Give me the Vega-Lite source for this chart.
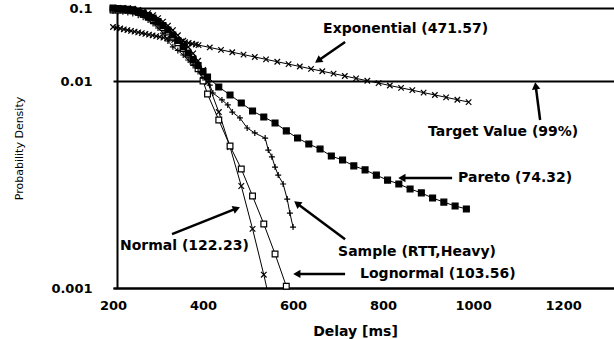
{
  "$schema": "https://vega.github.io/schema/vega-lite/v6.json",
  "width": 501,
  "height": 280,
  "autosize": {"type": "none"},
  "padding": {"left": 113, "top": 8, "right": 0, "bottom": 51},
  "background": "white",
  "config": {"view": {"stroke": null}, "font": "DejaVu Sans"},
  "datasets": {
    "curves": [
      {"s":"Exponential","x":200,"p":0.0549},{"s":"Exponential","x":208,"p":0.0536},{"s":"Exponential","x":216,"p":0.05233},{"s":"Exponential","x":224,"p":0.05109},{"s":"Exponential","x":232,"p":0.04988},{"s":"Exponential","x":240,"p":0.04869},{"s":"Exponential","x":248,"p":0.04754},{"s":"Exponential","x":256,"p":0.04641},{"s":"Exponential","x":264,"p":0.04531},{"s":"Exponential","x":272,"p":0.04424},{"s":"Exponential","x":280,"p":0.04319},{"s":"Exponential","x":288,"p":0.04216},{"s":"Exponential","x":296,"p":0.04116},{"s":"Exponential","x":304,"p":0.04019},{"s":"Exponential","x":312,"p":0.03923},{"s":"Exponential","x":320,"p":0.0383},{"s":"Exponential","x":328,"p":0.03739},{"s":"Exponential","x":336,"p":0.03651},{"s":"Exponential","x":344,"p":0.03564},{"s":"Exponential","x":352,"p":0.0348},{"s":"Exponential","x":360,"p":0.03397},{"s":"Exponential","x":368,"p":0.03317},{"s":"Exponential","x":376,"p":0.03238},{"s":"Exponential","x":384,"p":0.03161},{"s":"Exponential","x":390,"p":0.03105},{"s":"Exponential","x":415,"p":0.02881},{"s":"Exponential","x":440,"p":0.02672},{"s":"Exponential","x":465,"p":0.02479},{"s":"Exponential","x":490,"p":0.023},{"s":"Exponential","x":515,"p":0.02134},{"s":"Exponential","x":540,"p":0.01979},{"s":"Exponential","x":565,"p":0.01836},{"s":"Exponential","x":590,"p":0.01704},{"s":"Exponential","x":615,"p":0.0158},{"s":"Exponential","x":640,"p":0.01466},{"s":"Exponential","x":665,"p":0.0136},{"s":"Exponential","x":690,"p":0.01262},{"s":"Exponential","x":715,"p":0.01171},{"s":"Exponential","x":740,"p":0.01086},{"s":"Exponential","x":765,"p":0.01007},{"s":"Exponential","x":790,"p":0.00977},{"s":"Exponential","x":815,"p":0.00951},{"s":"Exponential","x":840,"p":0.00927},{"s":"Exponential","x":865,"p":0.00903},{"s":"Exponential","x":890,"p":0.00879},{"s":"Exponential","x":915,"p":0.00856},{"s":"Exponential","x":940,"p":0.00834},{"s":"Exponential","x":965,"p":0.00812},{"s":"Exponential","x":990,"p":0.00791},
      {"s":"Normal","x":200,"p":0.1},{"s":"Normal","x":211,"p":0.1},{"s":"Normal","x":222,"p":0.1},{"s":"Normal","x":233,"p":0.0991},{"s":"Normal","x":244,"p":0.0975},{"s":"Normal","x":256,"p":0.0942},{"s":"Normal","x":267,"p":0.0898},{"s":"Normal","x":278,"p":0.0849},{"s":"Normal","x":289,"p":0.0797},{"s":"Normal","x":300,"p":0.0727},{"s":"Normal","x":311,"p":0.0651},{"s":"Normal","x":322,"p":0.0572},{"s":"Normal","x":333,"p":0.0497},{"s":"Normal","x":344,"p":0.0423},{"s":"Normal","x":356,"p":0.0355},{"s":"Normal","x":367,"p":0.0293},{"s":"Normal","x":378,"p":0.0239},{"s":"Normal","x":389,"p":0.0189},{"s":"Normal","x":400,"p":0.0142},{"s":"Normal","x":410,"p":0.00989},{"s":"Normal","x":435,"p":0.00708},{"s":"Normal","x":460,"p":0.0048},{"s":"Normal","x":485,"p":0.00311},{"s":"Normal","x":510,"p":0.00193},{"s":"Normal","x":535,"p":0.00116},{"s":"Normal","x":560,"p":0.000663},
      {"s":"Lognormal","x":200,"p":0.0939},{"s":"Lognormal","x":211,"p":0.0939},{"s":"Lognormal","x":222,"p":0.0939},{"s":"Lognormal","x":233,"p":0.093},{"s":"Lognormal","x":244,"p":0.0915},{"s":"Lognormal","x":256,"p":0.0876},{"s":"Lognormal","x":267,"p":0.0823},{"s":"Lognormal","x":278,"p":0.0758},{"s":"Lognormal","x":289,"p":0.0689},{"s":"Lognormal","x":300,"p":0.0623},{"s":"Lognormal","x":311,"p":0.0542},{"s":"Lognormal","x":322,"p":0.0469},{"s":"Lognormal","x":333,"p":0.0401},{"s":"Lognormal","x":344,"p":0.0334},{"s":"Lognormal","x":356,"p":0.0278},{"s":"Lognormal","x":367,"p":0.0228},{"s":"Lognormal","x":378,"p":0.0186},{"s":"Lognormal","x":389,"p":0.0147},{"s":"Lognormal","x":400,"p":0.01},{"s":"Lognormal","x":410,"p":0.00865},{"s":"Lognormal","x":435,"p":0.00648},{"s":"Lognormal","x":460,"p":0.00485},{"s":"Lognormal","x":485,"p":0.00376},{"s":"Lognormal","x":510,"p":0.00278},{"s":"Lognormal","x":535,"p":0.00204},{"s":"Lognormal","x":560,"p":0.00146},{"s":"Lognormal","x":585,"p":0.00102},
      {"s":"Pareto","x":200,"p":0.1},{"s":"Pareto","x":211,"p":0.0987},{"s":"Pareto","x":222,"p":0.0975},{"s":"Pareto","x":233,"p":0.096},{"s":"Pareto","x":244,"p":0.0945},{"s":"Pareto","x":256,"p":0.0904},{"s":"Pareto","x":267,"p":0.0849},{"s":"Pareto","x":278,"p":0.0789},{"s":"Pareto","x":289,"p":0.073},{"s":"Pareto","x":300,"p":0.0655},{"s":"Pareto","x":311,"p":0.0577},{"s":"Pareto","x":322,"p":0.05},{"s":"Pareto","x":333,"p":0.0427},{"s":"Pareto","x":344,"p":0.0358},{"s":"Pareto","x":356,"p":0.0296},{"s":"Pareto","x":367,"p":0.0241},{"s":"Pareto","x":378,"p":0.0198},{"s":"Pareto","x":389,"p":0.0163},{"s":"Pareto","x":400,"p":0.0135},{"s":"Pareto","x":410,"p":0.01135},{"s":"Pareto","x":435,"p":0.00936},{"s":"Pareto","x":460,"p":0.00856},{"s":"Pareto","x":485,"p":0.00783},{"s":"Pareto","x":510,"p":0.00716},{"s":"Pareto","x":535,"p":0.0067},{"s":"Pareto","x":560,"p":0.00627},{"s":"Pareto","x":585,"p":0.00574},{"s":"Pareto","x":610,"p":0.0053},{"s":"Pareto","x":635,"p":0.00496},{"s":"Pareto","x":660,"p":0.00469},{"s":"Pareto","x":685,"p":0.00434},{"s":"Pareto","x":710,"p":0.00415},{"s":"Pareto","x":735,"p":0.00389},{"s":"Pareto","x":760,"p":0.00372},{"s":"Pareto","x":785,"p":0.00351},{"s":"Pareto","x":810,"p":0.00332},{"s":"Pareto","x":835,"p":0.00318},{"s":"Pareto","x":860,"p":0.00301},{"s":"Pareto","x":885,"p":0.00288},{"s":"Pareto","x":910,"p":0.00272},{"s":"Pareto","x":935,"p":0.0026},{"s":"Pareto","x":960,"p":0.00249},{"s":"Pareto","x":985,"p":0.00241},
      {"s":"Sample","x":200,"p":0.091},{"s":"Sample","x":211,"p":0.0898},{"s":"Sample","x":222,"p":0.0887},{"s":"Sample","x":233,"p":0.0865},{"s":"Sample","x":244,"p":0.0838},{"s":"Sample","x":256,"p":0.0797},{"s":"Sample","x":267,"p":0.0748},{"s":"Sample","x":278,"p":0.0683},{"s":"Sample","x":289,"p":0.0611},{"s":"Sample","x":300,"p":0.0532},{"s":"Sample","x":311,"p":0.0454},{"s":"Sample","x":322,"p":0.0353},{"s":"Sample","x":333,"p":0.0294},{"s":"Sample","x":344,"p":0.0262},{"s":"Sample","x":356,"p":0.0227},{"s":"Sample","x":367,"p":0.0194},{"s":"Sample","x":378,"p":0.0163},{"s":"Sample","x":389,"p":0.0135},{"s":"Sample","x":400,"p":0.0111},{"s":"Sample","x":415,"p":0.00956},{"s":"Sample","x":422,"p":0.00875},{"s":"Sample","x":442,"p":0.0081},{"s":"Sample","x":455,"p":0.00766},{"s":"Sample","x":465,"p":0.00708},{"s":"Sample","x":482,"p":0.00663},{"s":"Sample","x":498,"p":0.00593},{"s":"Sample","x":515,"p":0.00561},{"s":"Sample","x":538,"p":0.0053},{"s":"Sample","x":545,"p":0.00464},{"s":"Sample","x":553,"p":0.0043},{"s":"Sample","x":560,"p":0.00384},{"s":"Sample","x":567,"p":0.00351},{"s":"Sample","x":578,"p":0.00318},{"s":"Sample","x":587,"p":0.00269},{"s":"Sample","x":593,"p":0.0023},{"s":"Sample","x":600,"p":0.00197}
    ],
    "arrows": [
      {"name":"Exponential","x":715.6,"p":0.0342,"x2":657.8,"p2":0.0194},
      {"name":"Target","x":1148.9,"p":0.00648,"x2":1139.3,"p2":0.00936},
      {"name":"Pareto","x":953.3,"p":0.0034,"x2":844.4,"p2":0.0034},
      {"name":"Sample","x":715.6,"p":0.00172,"x2":611.1,"p2":0.00254},
      {"name":"Lognormal","x":715.6,"p":0.00117,"x2":611.1,"p2":0.00117},
      {"name":"Normal","x":331.1,"p":0.00182,"x2":472,"p2":0.00241}
    ],
    "heads": [
      {"name":"Exponential","x":657.8,"p":0.0194},
      {"name":"Target","x":1139.3,"p":0.00936},
      {"name":"Pareto","x":844.4,"p":0.0034},
      {"name":"Sample","x":611.1,"p":0.00254},
      {"name":"Lognormal","x":611.1,"p":0.00117},
      {"name":"Normal","x":472,"p":0.00241}
    ],
    "notes": [
      {"label":"Exponential (471.57)","x":666.7,"p":0.0516},
      {"label":"Target Value (99%)","x":900,"p":0.00567},
      {"label":"Pareto (74.32)","x":966.7,"p":0.0034},
      {"label":"Sample (RTT,Heavy)","x":700,"p":0.00149},
      {"label":"Lognormal (103.56)","x":748.9,"p":0.00117},
      {"label":"Normal (122.23)","x":215.6,"p":0.0016}
    ]
  },
  "encoding": {
    "x": {
      "field": "x", "type": "quantitative",
      "scale": {"domain": [200, 1313], "nice": false, "zero": false},
      "axis": {
        "values": [200, 400, 600, 800, 1000, 1200], "format": "d",
        "ticks": false, "grid": false,
        "domainColor": "black", "domainWidth": 2,
        "labelFont": "DejaVu Sans", "labelFontWeight": "bold", "labelFontSize": 13, "labelColor": "black",
        "labelPadding": 11, "labelFlush": false, "labelOverlap": false,
        "title": "Delay [ms]", "titleFont": "DejaVu Sans", "titleFontWeight": "bold", "titleFontSize": 14, "titleColor": "black",
        "titleX": 242, "titleY": 43, "titleBaseline": "middle", "titleAlign": "center"
      }
    },
    "y": {
      "field": "p", "type": "quantitative",
      "scale": {"type": "log", "domain": [0.001, 0.01, 0.1], "range": [280, 73, 0], "nice": false},
      "axis": {
        "values": [0.001, 0.01, 0.1], "format": ".3~f",
        "ticks": false, "grid": true, "gridColor": "black", "gridWidth": 2, "gridOpacity": 1,
        "domainColor": "black", "domainWidth": 2, "offset": -4,
        "labelFont": "DejaVu Sans", "labelFontWeight": "bold", "labelFontSize": 13, "labelColor": "black",
        "labelPadding": 25, "labelOverlap": false,
        "title": "Probability Density", "titleFont": "DejaVu Sans", "titleFontWeight": "normal", "titleFontSize": 11, "titleColor": "black",
        "titlePadding": 26
      }
    }
  },
  "layer": [
    {
      "data": {"name": "curves"},
      "mark": {"type": "line", "color": "black", "strokeWidth": 1, "clip": true},
      "encoding": {"detail": {"field": "s", "type": "nominal"}, "order": {"field": "x", "type": "quantitative"}}
    },
    {
      "data": {"name": "curves"},
      "transform": [{"filter": "datum.p >= 0.001"}],
      "mark": {"type": "point", "filled": true, "stroke": "black", "strokeWidth": 1.2, "opacity": 1},
      "encoding": {
        "shape": {"field": "s", "type": "nominal", "legend": null,
          "scale": {"domain": ["Exponential", "Normal", "Lognormal", "Pareto", "Sample"],
                    "range": ["M-1,-1L1,1M-1,1L1,-1", "M-1,-1L1,1M-1,1L1,-1", "square", "square", "M-1,0H1M0,-1V1"]}},
        "fill": {"field": "s", "type": "nominal", "legend": null,
          "scale": {"domain": ["Exponential", "Normal", "Lognormal", "Pareto", "Sample"],
                    "range": ["black", "black", "white", "black", "black"]}},
        "size": {"field": "s", "type": "ordinal", "legend": null,
          "scale": {"domain": ["Exponential", "Normal", "Lognormal", "Pareto", "Sample"],
                    "range": [30, 36, 40, 25, 36]}}
      }
    },
    {
      "data": {"name": "arrows"},
      "mark": {"type": "rule", "color": "black", "strokeWidth": 2.5},
      "encoding": {"x2": {"field": "x2"}, "y2": {"field": "p2"}}
    },
    {
      "data": {"name": "heads"},
      "transform": [{"filter": "datum.name === 'Exponential'"}],
      "mark": {"type": "point", "shape": "triangle", "angle": 235, "filled": true, "color": "black", "opacity": 1, "size": 70}
    },
    {
      "data": {"name": "heads"},
      "transform": [{"filter": "datum.name === 'Target'"}],
      "mark": {"type": "point", "shape": "triangle", "angle": 352.5, "filled": true, "color": "black", "opacity": 1, "size": 70}
    },
    {
      "data": {"name": "heads"},
      "transform": [{"filter": "datum.name === 'Pareto' || datum.name === 'Lognormal'"}],
      "mark": {"type": "point", "shape": "triangle", "angle": 270, "filled": true, "color": "black", "opacity": 1, "size": 70}
    },
    {
      "data": {"name": "heads"},
      "transform": [{"filter": "datum.name === 'Sample'"}],
      "mark": {"type": "point", "shape": "triangle", "angle": 306.7, "filled": true, "color": "black", "opacity": 1, "size": 70}
    },
    {
      "data": {"name": "heads"},
      "transform": [{"filter": "datum.name === 'Normal'"}],
      "mark": {"type": "point", "shape": "triangle", "angle": 68.3, "filled": true, "color": "black", "opacity": 1, "size": 70}
    },
    {
      "data": {"name": "notes"},
      "mark": {"type": "text", "align": "left", "baseline": "middle", "font": "DejaVu Sans", "fontWeight": "bold", "fontSize": 14, "color": "black"},
      "encoding": {"text": {"field": "label", "type": "nominal"}}
    }
  ]
}
